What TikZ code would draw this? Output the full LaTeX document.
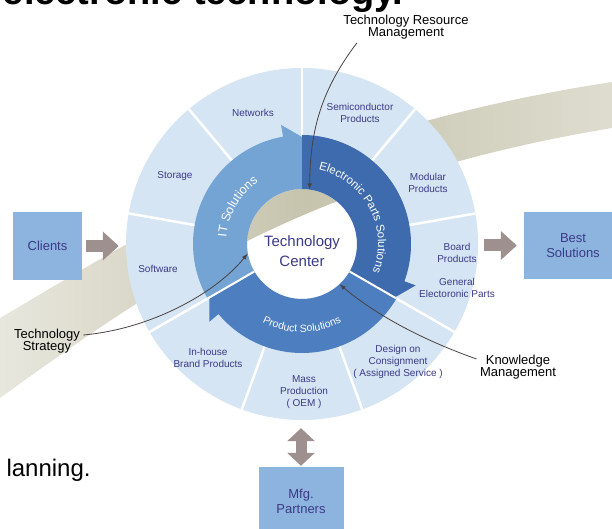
\documentclass[tikz,border=0pt]{standalone}
\usepackage{fontspec}
\setmainfont{Liberation Sans}
\usepackage{tikz}
\usetikzlibrary{arrows.meta}
\usetikzlibrary{decorations.text}

\definecolor{pale}{HTML}{D5E5F3}
\definecolor{itblue}{HTML}{74A4D4}
\definecolor{epblue}{HTML}{3E6BAE}
\definecolor{psblue}{HTML}{4C7EC0}
\definecolor{boxblue}{HTML}{8DB4DF}
\definecolor{navy}{HTML}{3B3A86}
\definecolor{flow}{HTML}{9D908E}
\definecolor{swoosh}{HTML}{C6C4AD}
\definecolor{swooshlight}{HTML}{E8E7DE}
\definecolor{callout}{HTML}{4A4242}

\begin{document}
\begin{tikzpicture}[x=1pt, y=1pt, >={Triangle[length=16pt,width=28pt]},
    seg/.style={align=center, text=navy, font=\fontsize{10}{12}\selectfont},
    box/.style={fill=boxblue, text=navy, align=center, font=\fontsize{13}{15}\selectfont},
    flowline/.style={flow, line width=12pt},
    note/.style={align=center, font=\fontsize{13}{12.5}\selectfont},
    pointer/.style={callout, line width=0.8pt, -{Latex[length=6pt,width=4.5pt]}},
    ringtext/.style={decorate, decoration={text along path, text align=center, text color=white}}]
    \useasboundingbox (0,0) rectangle (612,529);
    \clip (0,0) rectangle (612,529);
    % background band
    \shade[left color=swooshlight, right color=swooshlight!70!swoosh, middle color=swoosh]
        (0,131) .. controls (150,239) and (300,349) .. (612,401) -- (612,447)
        .. controls (300,399) and (150,299) .. (0,211) -- cycle;
    % page text
    \node[anchor=base east, font=\bfseries\fontsize{38}{38}\selectfont] (headline) at (407,524) {ultimated electronic technology.};
    \node[anchor=base west, font=\fontsize{24}{24}\selectfont] (tailline) at (3,52) {lanning.};
    % wheel
    \node[circle, minimum size=352pt, inner sep=0pt] (disc) at (302,285) {};
    \begin{scope}[shift={(302,285)}]
        \fill[pale, even odd rule] (0,0) circle[radius=176] (0,0) circle[radius=55];
        \foreach \a in {90,50,10,-30,-70,-110,-150,170,130}
            \draw[white, line width=2.5pt] (\a:109) -- (\a:176);
        %arrows
        \fill[itblue] (210:55) arc[start angle=210, end angle=90, radius=55] -- (90:107) -- (100:121)
            -- (100:109) arc[start angle=100, end angle=210, radius=109] -- cycle;
        \fill[epblue] (90:55) arc[start angle=90, end angle=-30, radius=55] -- (-30:107) -- (-20:121)
            -- (-20:109) arc[start angle=-20, end angle=90, radius=109] -- cycle;
        \fill[psblue] (-30:55) arc[start angle=-30, end angle=-150, radius=55] -- (-150:107) -- (-140:121)
            -- (-140:109) arc[start angle=-140, end angle=-30, radius=109] -- cycle;
        \foreach \a in {-30,-150}
            \draw[white, line width=2pt] (\a:55) -- (\a:109);
        %ring labels
        \path[ringtext, decoration={text={|\fontsize{12.5}{12.5}\selectfont|IT Solutions}}]
            (190:76) arc[start angle=190, end angle=110, radius=76];
        \path[ringtext, decoration={text={|\fontsize{11.5}{11.5}\selectfont|Electronic Parts Solutions}}]
            (86:76) arc[start angle=86, end angle=-30, radius=76];
        \path[ringtext, decoration={text={|\fontsize{10.5}{10.5}\selectfont|Product Solutions}}]
            (-128:88) arc[start angle=-128, end angle=-52, radius=88];
    \end{scope}
    \node[circle, minimum size=110pt, inner sep=0pt] (tc) at (302,285) {};
    \node[text=navy, align=center, font=\fontsize{15}{20}\selectfont] (tclabel) at (302,278) {Technology\\Center};
    % segments
    \node[seg] (networks) at (253,416) {Networks};
    \node[seg] (semicond) at (360,416) {Semiconductor\\Products};
    \node[seg] (storage) at (175,353) {Storage};
    \node[seg] (modular) at (428,346) {Modular\\Products};
    \node[seg] (software) at (158,260) {Software};
    \node[seg] (board) at (457,276) {Board\\Products};
    \node[seg] (general) at (457,241) {General\\Electoronic Parts};
    \node[seg] (inhouse) at (208,171) {In-house\\Brand Products};
    \node[seg] (mass) at (304,137) {Mass\\Production\\( OEM )};
    \node[seg] (design) at (398,167) {Design on\\Consignment\\( Assigned Service )};
    % outside boxes
    \node[box, minimum width=69pt, minimum height=68pt] (clients) at (47.5,283) {Clients};
    \node[box, minimum width=98pt, minimum height=67pt] (best) at (573,283.5) {Best\\Solutions};
    \node[box, minimum width=85pt, minimum height=68pt] (mfg) at (301,28) {Mfg.\\Partners};
    \draw[flowline, ->, shorten <=4pt, shorten >=7pt] (clients.east) -- (clients.east -| disc.west);
    \draw[flowline, ->, shorten <=6pt, shorten >=7pt] (best.west -| disc.east) -- (best.west);
    \draw[flowline, line width=11pt, {Triangle[length=13pt,width=27pt]}-{Triangle[length=13pt,width=27pt]},
        shorten <=1pt, shorten >=8pt] (mfg.north) -- (mfg.north |- disc.south);
    % callouts
    \node[note] (trm) at (406,502) {Technology Resource\\Management};
    \node[note] (ts) at (47,188) {Technology\\Strategy};
    \node[note] (km) at (518,162) {Knowledge\\Management};
    \draw[pointer] ([xshift=17pt]trm.south west) .. controls (322,440) and (310,400) .. (tc.82);
    \draw[pointer] ([yshift=6pt]ts.east) .. controls (150,200) and (215,235) .. (tc.190);
    \draw[pointer] ([yshift=8pt]km.west) .. controls (420,190) and (375,215) .. (tc.-47);
\end{tikzpicture}
\end{document}
